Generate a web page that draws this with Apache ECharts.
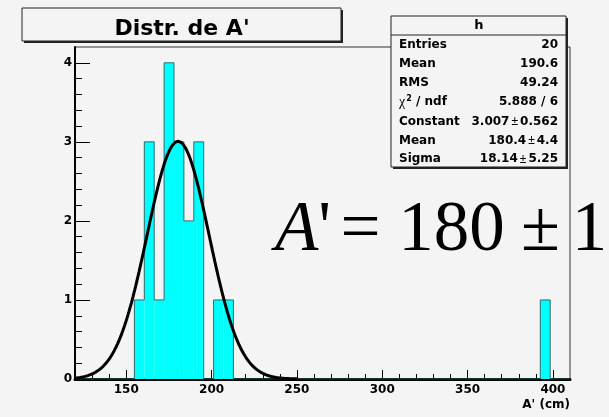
<!DOCTYPE html>
<html>
<head>
<meta charset="utf-8">
<title>Distr. de A'</title>
<script src="https://cdn.jsdelivr.net/npm/echarts@6.0.0/dist/echarts.min.js"></script>
<style>
  html, body { margin: 0; padding: 0; background: #f4f4f4; }
  #chart { width: 609px; height: 417px; }
</style>
</head>
<body>
<div id="chart"></div>
<script>
// Histogram binning: 50 bins over [120, 410]
const xMin = 120;
const xMax = 410;
const binCount = 50;
const binCounts = [
  0, 0, 0, 0, 0, 0, 1, 3, 1, 4,
  3, 2, 3, 0, 1, 1, 0, 0, 0, 0,
  0, 0, 0, 0, 0, 0, 0, 0, 0, 0,
  0, 0, 0, 0, 0, 0, 0, 0, 0, 0,
  0, 0, 0, 0, 0, 0, 0, 1, 0, 0
];

// Gaussian fit parameters
const fitConstant = 3.007;
const fitMean = 180.4;
const fitSigma = 18.14;
const fitRange = [120, 250];

// Axis ticks
const xMajorTicks = [150, 200, 250, 300, 350, 400];
const xMinorTicks = [130, 140, 160, 170, 180, 190, 210, 220, 230, 240,
  260, 270, 280, 290, 310, 320, 330, 340, 360, 370, 380, 390];
const yMin = 0;
const yMax = 4.2;
const yMajorTicks = [0, 1, 2, 3, 4];
const yMinorTicks = [0.2, 0.4, 0.6, 0.8, 1.2, 1.4, 1.6, 1.8, 2.2, 2.4, 2.6, 2.8,
  3.2, 3.4, 3.6, 3.8];

// Texts
const titleText = "Distr. de A'";
const xAxisTitle = "A' (cm)";
const statsName = 'h';
const statsLabels = ['Entries', 'Mean', 'RMS', '{g|χ}{s|2}{t| / ndf}', 'Constant', 'Mean', 'Sigma'];
const statsValues = ['20', '190.6', '49.24', '5.888 / 6', '3.007{p|±}0.562', '180.4{p|±}4.4', '18.14{p|±}5.25'];
const resultParts = ["A", "'", '=', '180', '±', '1'];

const BG = '#f4f4f4';
const SANS = 'DejaVu Sans';
const SERIF = 'Liberation Serif';

const binWidth = (xMax - xMin) / binCount;
const barData = binCounts.map((c, i) => [xMin + i * binWidth, xMin + (i + 1) * binWidth, c]);
const outlineData = binCounts.map((c, i) => [xMin + i * binWidth, c]);
outlineData.push([xMax, 0]);

// Fitted gaussian evaluated from the fit parameters
const fitCurve = [];
for (let x = fitRange[0]; x <= fitRange[1]; x += 0.5) {
  const z = (x - fitMean) / fitSigma;
  fitCurve.push([x, fitConstant * Math.exp(-0.5 * z * z)]);
}

const chart = echarts.init(document.getElementById('chart'), null, { renderer: 'canvas' });

const labelStyle = { color: '#000', fontFamily: SANS, fontWeight: 'bold', fontSize: 12 };

const statsRich = {
  t: { fontFamily: SANS, fontWeight: 'bold', fontSize: 12, fill: '#000' },
  g: { fontFamily: SERIF, fontSize: 14, fill: '#000' },
  s: { fontFamily: SANS, fontWeight: 'bold', fontSize: 8, fill: '#000', verticalAlign: 'top', padding: [0, 0, 6, 1] },
  p: { fontFamily: 'Liberation Sans', fontSize: 12, fill: '#000', padding: [0, 2, 0, 2] }
};

// Stats box text rows
const rowY = [45, 64, 83.3, 102.3, 121.7, 140.7, 159.3];
const statsGraphics = [];
statsLabels.forEach((lab, i) => {
  statsGraphics.push({
    type: 'text', x: 399, y: rowY[i], z: 20,
    style: {
      text: lab, fill: '#000', font: 'bold 12px "' + SANS + '"',
      verticalAlign: 'middle', align: 'left', rich: statsRich
    }
  });
  statsGraphics.push({
    type: 'text', x: 558, y: rowY[i], z: 20,
    style: {
      text: statsValues[i], fill: '#000', font: 'bold 12px "' + SANS + '"',
      verticalAlign: 'middle', align: 'right', rich: statsRich
    }
  });
});

const resultX = [275, 360.5, 451.5, 540.5, 589.5];
const resultY = 231;

const option = {
  backgroundColor: BG,
  animation: false,
  grid: {
    left: 75, right: 39, top: 47, bottom: 38,
    show: true, borderColor: '#333', borderWidth: 1, backgroundColor: BG
  },
  xAxis: [
    {
      type: 'value', min: xMin, max: xMax, position: 'bottom',
      axisLine: { show: true, onZero: false, lineStyle: { color: '#000', width: 3 } },
      axisTick: { show: true, inside: true, length: 9, customValues: xMajorTicks, lineStyle: { color: '#000', width: 1 } },
      axisLabel: Object.assign({ customValues: xMajorTicks, margin: 5 }, labelStyle),
      splitLine: { show: false }
    },
    {
      type: 'value', min: xMin, max: xMax, position: 'bottom', offset: 0,
      axisLine: { show: false, onZero: false },
      axisTick: { show: true, inside: true, length: 5, customValues: xMinorTicks, lineStyle: { color: '#000', width: 1 } },
      axisLabel: { show: false },
      splitLine: { show: false }
    }
  ],
  yAxis: [
    {
      type: 'value', min: yMin, max: yMax, position: 'left',
      axisLine: { show: true, onZero: false, lineStyle: { color: '#000', width: 2 } },
      axisTick: { show: true, inside: true, length: 15, customValues: yMajorTicks, lineStyle: { color: '#000', width: 1 } },
      axisLabel: Object.assign({ customValues: yMajorTicks, margin: 3 }, labelStyle),
      splitLine: { show: false }
    },
    {
      type: 'value', min: yMin, max: yMax, position: 'left', offset: 0,
      axisLine: { show: false, onZero: false },
      axisTick: { show: true, inside: true, length: 7, customValues: yMinorTicks, lineStyle: { color: '#000', width: 1 } },
      axisLabel: { show: false },
      splitLine: { show: false }
    }
  ],
  series: [
    {
      type: 'custom', xAxisIndex: 0, yAxisIndex: 0, z: 2,
      data: barData,
      renderItem: function (params, api) {
        const c = api.value(2);
        if (!c) return null;
        const p0 = api.coord([api.value(0), c]);
        const p1 = api.coord([api.value(1), 0]);
        return {
          type: 'rect',
          shape: { x: p0[0], y: p0[1], width: p1[0] - p0[0], height: p1[1] - p0[1] },
          style: { fill: '#00ffff' }
        };
      }
    },
    {
      type: 'line', xAxisIndex: 0, yAxisIndex: 0, z: 3,
      data: outlineData, step: 'end', showSymbol: false, silent: true,
      lineStyle: { color: '#2d6b6b', width: 1 }
    },
    {
      type: 'line', xAxisIndex: 0, yAxisIndex: 0, z: 4,
      data: fitCurve, smooth: false, showSymbol: false, silent: true,
      lineStyle: { color: '#000', width: 3 }
    }
  ],
  graphic: [
    // title box
    { type: 'rect', z: 10, shape: { x: 24, y: 10, width: 319, height: 33 }, style: { fill: '#222' } },
    { type: 'rect', z: 11, shape: { x: 22, y: 8, width: 319, height: 33 }, style: { fill: BG, stroke: '#222', lineWidth: 1 } },
    { type: 'text', z: 12, x: 182, y: 29.5,
      style: { text: titleText, font: 'bold 22px "' + SANS + '"', fill: '#000', align: 'center', verticalAlign: 'middle' } },
    // stats box
    { type: 'rect', z: 10, shape: { x: 393, y: 18, width: 175, height: 151 }, style: { fill: '#222' } },
    { type: 'rect', z: 11, shape: { x: 391, y: 16, width: 175, height: 151 }, style: { fill: BG, stroke: '#222', lineWidth: 1 } },
    { type: 'line', z: 12, shape: { x1: 391, y1: 35, x2: 566, y2: 35 }, style: { stroke: '#222', lineWidth: 1 } },
    { type: 'text', z: 12, x: 479, y: 26, style: { text: statsName, font: 'bold 13px "' + SANS + '"', fill: '#000', align: 'center', verticalAlign: 'middle' } },
    ...statsGraphics,
    // x axis title
    { type: 'text', z: 12, x: 570, y: 405,
      style: { text: xAxisTitle, font: 'bold 12px "' + SANS + '"', fill: '#000', align: 'right', verticalAlign: 'middle' } },
    // fit result annotation
    { type: 'text', z: 12, x: resultX[0], y: resultY,
      style: { text: '{i|' + resultParts[0] + '}{n|' + resultParts[1] + '}', align: 'left', verticalAlign: 'middle',
        rich: {
          i: { fontFamily: SERIF, fontStyle: 'italic', fontSize: 71, fill: '#000' },
          n: { fontFamily: SERIF, fontSize: 71, fill: '#000' }
        } } },
    { type: 'text', z: 12, x: resultX[1], y: resultY,
      style: { text: resultParts[2], font: '71px "' + SERIF + '"', fill: '#000', align: 'center', verticalAlign: 'middle' } },
    { type: 'text', z: 12, x: resultX[2], y: resultY,
      style: { text: resultParts[3], font: '71px "' + SERIF + '"', fill: '#000', align: 'center', verticalAlign: 'middle' } },
    { type: 'text', z: 12, x: resultX[3], y: resultY,
      style: { text: resultParts[4], font: '71px "' + SERIF + '"', fill: '#000', align: 'center', verticalAlign: 'middle' } },
    { type: 'text', z: 12, x: resultX[4], y: resultY,
      style: { text: resultParts[5], font: '71px "' + SERIF + '"', fill: '#000', align: 'center', verticalAlign: 'middle' } }
  ]
};

chart.setOption(option);
</script>
</body>
</html>
